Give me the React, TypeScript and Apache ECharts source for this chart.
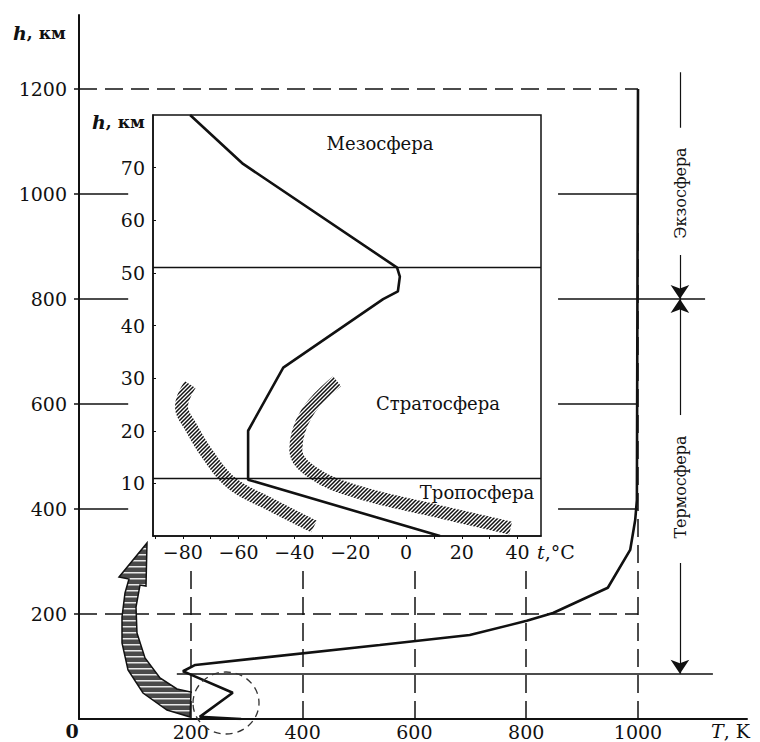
import React, { useEffect, useRef } from "react";
import * as echarts from "echarts";

// Main profile: temperature (K) vs height (km)
const mainHeights = [0, 4, 50, 85, 91, 103, 141, 160, 187, 202, 250, 322, 379, 417, 1200];
const mainTemps = [290, 216, 275, 199, 186, 208, 538, 699, 801, 848, 946, 986, 995, 998, 1000];

// Inset profile: temperature (°C) vs height (km)
const insetHeights = [80, 70.7, 51, 49.3, 46.5, 45, 32, 20, 10.7, 0];
const insetTemps = [-77.4, -58.4, -3.2, -2.2, -2.9, -8.2, -44, -56.6, -56.6, 12.2];

// Hatched bands (cold / warm extremes)
const coldHeights = [28.8, 24.6, 20.6, 15.4, 10, 6.3, 1.8];
const coldTemps = [-77.4, -80.5, -77, -71, -62.4, -49.8, -33];
const warmHeights = [29.4, 23.4, 16.4, 12, 8.4, 4.9, 1.5];
const warmTemps = [-24.7, -35.5, -39.5, -33.3, -17.6, 9.7, 37.5];

const mainTicksK = [200, 400, 600, 800, 1000];
const mainTicksKm = [200, 400, 600, 800, 1000, 1200];
const insetTicksC = [-80, -60, -40, -20, 0, 20, 40];
const insetMinorC = [-90, -80, -70, -60, -50, -40, -30, -20, -10, 0, 10, 20, 30, 40];
const insetTicksKm = [10, 20, 30, 40, 50, 60, 70];

const tropopauseKm = 11;
const stratopauseKm = 51;
const mesopauseKm = 86;
const exoBaseKm = 800;
const topKm = 1200;

const FONT = "DejaVu Serif";

function makeHatch(): HTMLCanvasElement | null {
  try {
    const c = document.createElement("canvas");
    c.width = 6;
    c.height = 6;
    const g = c.getContext("2d");
    if (!g) return null;
    g.fillStyle = "#4a4a4a";
    g.fillRect(0, 0, 6, 6);
    g.fillStyle = "#e8e8e8";
    g.fillRect(0, 2, 6, 1.5);
    return c;
  } catch (e) {
    return null;
  }
}

function makeDiag(): HTMLCanvasElement | null {
  try {
    const s = 4;
    const c = document.createElement("canvas");
    c.width = s;
    c.height = s;
    const g = c.getContext("2d");
    if (!g) return null;
    g.strokeStyle = "#111";
    g.lineWidth = 1.5;
    g.beginPath();
    g.moveTo(-1, s + 1);
    g.lineTo(s + 1, -1);
    g.moveTo(-1, 1);
    g.lineTo(1, -1);
    g.moveTo(s - 1, s + 1);
    g.lineTo(s + 1, s - 1);
    g.stroke();
    return c;
  } catch (e) {
    return null;
  }
}

export default function App() {
  const ref = useRef<HTMLDivElement>(null);
  useEffect(() => {
    if (!ref.current) return;
    const chart = echarts.init(ref.current, null, { renderer: "svg" });

    const toPairs = (xs: number[], ys: number[]) => xs.map((x, i) => [x, ys[i]]);

    const innerTickSegs = [400, 600, 800, 1000].map((h) => ({ coords: [[0, h], [88, h]] }));
    const rightSegs = [400, 600, 1000].map((h) => ({ coords: [[857, h], [1000, h]] }));
    rightSegs.push({ coords: [[857, exoBaseKm], [1120, exoBaseKm]] });
    const mesoLine = { coords: [[175, mesopauseKm], [1134, mesopauseKm]] };

    const dashedH = [topKm, 200].map((h) => ({ coords: [[0, h], [1000, h]] }));
    const dashedV = [200, 400, 600, 800].map((t) => ({ coords: [[t, 0], [t, 290]] }));
    dashedV.push({ coords: [[1000, 0], [1000, topKm]] });

    const xAnn = 1075;
    const plainAnn = [{ coords: [[xAnn, 1232], [xAnn, 1126]] }];
    const arrowAnn = [
      { coords: [[xAnn, 884], [xAnn, exoBaseKm]] },
      { coords: [[xAnn, 579], [xAnn, exoBaseKm]] },
      { coords: [[xAnn, 297], [xAnn, mesopauseKm]] },
    ];

    const insetLines = [tropopauseKm, stratopauseKm].map((h) => ({ coords: [[-90.7, h], [48.4, h]] }));

    const txt = (x: number, y: number, text: string, extra: any = {}, rotation = 0) => ({
      type: "text",
      x,
      y,
      rotation,
      z: 120,
      style: {
        text,
        font: `18px "${FONT}"`,
        fill: "#111",
        textAlign: "center",
        textVerticalAlign: "middle",
        ...extra,
      },
    });

    const hatch = makeHatch();
    const arrowFill = hatch
      ? { image: hatch, repeat: "repeat", imageWidth: 6, imageHeight: 6 }
      : "#7c7c7c";
    const diag = makeDiag();
    const bandStyle = diag
      ? { color: { image: diag, repeat: "repeat", imageWidth: 4, imageHeight: 4 }, width: 13, opacity: 1 }
      : { color: "#222", width: 13, type: [1.5, 2.2] };

    const option: any = {
      animation: false,
      backgroundColor: "#fff",
      grid: [
        { left: 79, top: 15, width: 668, height: 704, containLabel: false },
        {
          left: 153,
          top: 115,
          width: 388,
          height: 421,
          show: true,
          backgroundColor: "#fff",
          borderColor: "#111",
          borderWidth: 1.5,
          z: 5,
        },
      ],
      xAxis: [
        {
          type: "value",
          gridIndex: 0,
          min: 0,
          max: 1195,
          axisLine: { show: true, lineStyle: { color: "#111", width: 2 } },
          axisTick: { show: false },
          splitLine: { show: false },
          axisLabel: {
            customValues: mainTicksK,
            margin: 3,
            color: "#111",
            fontFamily: FONT,
            fontSize: 19,
            formatter: (v: number) => String(v),
          },
        },
        {
          type: "value",
          gridIndex: 1,
          min: -90.7,
          max: 48.4,
          axisLine: { show: true, onZero: false, lineStyle: { color: "#111", width: 1.5 } },
          axisTick: { show: true, customValues: insetMinorC, length: 3, lineStyle: { color: "#111" } },
          splitLine: { show: false },
          axisLabel: {
            customValues: insetTicksC,
            margin: 6,
            color: "#111",
            fontFamily: FONT,
            fontSize: 19,
            formatter: (v: number) => (v < 0 ? "\u2212" + Math.abs(v) : String(v)),
          },
          z: 6,
        },
      ],
      yAxis: [
        {
          type: "value",
          gridIndex: 0,
          min: 0,
          max: 1341,
          axisLine: { show: true, lineStyle: { color: "#111", width: 2 } },
          axisTick: { show: true, customValues: mainTicksKm, length: 5, lineStyle: { color: "#111", width: 1.5 } },
          splitLine: { show: false },
          axisLabel: {
            customValues: mainTicksKm,
            margin: 12,
            color: "#111",
            fontFamily: FONT,
            fontSize: 19,
            formatter: (v: number) => String(v),
          },
        },
        {
          type: "value",
          gridIndex: 1,
          min: 0,
          max: 80,
          axisLine: { show: true, onZero: false, lineStyle: { color: "#111", width: 1.5 } },
          axisTick: { show: true, inside: true, customValues: insetTicksKm, length: 3, lineStyle: { color: "#111" } },
          splitLine: { show: false },
          axisLabel: {
            customValues: insetTicksKm,
            margin: 8,
            color: "#111",
            fontFamily: FONT,
            fontSize: 19,
          },
          z: 6,
        },
      ],
      series: [
        {
          type: "lines",
          coordinateSystem: "cartesian2d",
          xAxisIndex: 0,
          yAxisIndex: 0,
          data: [...innerTickSegs, ...rightSegs, mesoLine],
          lineStyle: { color: "#111", width: 1.5, opacity: 1 },
          silent: true,
        },
        {
          type: "lines",
          coordinateSystem: "cartesian2d",
          xAxisIndex: 0,
          yAxisIndex: 0,
          data: [...dashedH, ...dashedV],
          lineStyle: { color: "#111", width: 1.5, type: [18, 8], opacity: 1 },
          silent: true,
        },
        {
          type: "lines",
          coordinateSystem: "cartesian2d",
          xAxisIndex: 0,
          yAxisIndex: 0,
          data: plainAnn,
          lineStyle: { color: "#111", width: 1.2, opacity: 1 },
          silent: true,
        },
        {
          type: "lines",
          coordinateSystem: "cartesian2d",
          xAxisIndex: 0,
          yAxisIndex: 0,
          data: arrowAnn,
          symbol: ["none", "arrow"],
          symbolSize: [6, 14],
          lineStyle: { color: "#111", width: 1.2, opacity: 1 },
          silent: true,
        },
        {
          name: "T",
          type: "line",
          xAxisIndex: 0,
          yAxisIndex: 0,
          data: toPairs(mainTemps, mainHeights),
          showSymbol: false,
          symbol: "none",
          lineStyle: { color: "#111", width: 2.6 },
          z: 4,
        },
        // inset
        {
          type: "lines",
          coordinateSystem: "cartesian2d",
          xAxisIndex: 1,
          yAxisIndex: 1,
          data: insetLines,
          lineStyle: { color: "#111", width: 1.3, opacity: 1 },
          silent: true,
          z: 7,
        },
        {
          name: "cold",
          type: "line",
          xAxisIndex: 1,
          yAxisIndex: 1,
          data: toPairs(coldTemps, coldHeights),
          smooth: 0.4,
          showSymbol: false,
          symbol: "none",
          lineStyle: bandStyle,
          z: 7,
        },
        {
          name: "warm",
          type: "line",
          xAxisIndex: 1,
          yAxisIndex: 1,
          data: toPairs(warmTemps, warmHeights),
          smooth: 0.4,
          showSymbol: false,
          symbol: "none",
          lineStyle: bandStyle,
          z: 7,
        },
        {
          name: "t",
          type: "line",
          xAxisIndex: 1,
          yAxisIndex: 1,
          data: toPairs(insetTemps, insetHeights),
          showSymbol: false,
          symbol: "none",
          lineStyle: { color: "#111", width: 2.6 },
          z: 8,
        },
      ],
      graphic: [
        {
          type: "text",
          x: 13,
          y: 33,
          z: 120,
          style: {
            text: "{i|h}{n|, км}",
            textVerticalAlign: "middle",
            rich: {
              i: { font: `italic bold 19px "${FONT}"`, fill: "#111" },
              n: { font: `bold 17px "${FONT}"`, fill: "#111" },
            },
          },
        },
        {
          type: "text",
          x: 92,
          y: 122,
          z: 120,
          style: {
            text: "{i|h}{n|, км}",
            textVerticalAlign: "middle",
            rich: {
              i: { font: `italic bold 19px "${FONT}"`, fill: "#111" },
              n: { font: `bold 17px "${FONT}"`, fill: "#111" },
            },
          },
        },
        txt(72, 731, "0", { font: `bold 19px "${FONT}"` }),
        {
          type: "text",
          x: 711,
          y: 731,
          z: 120,
          style: {
            text: "{i|T}{n|, K}",
            textVerticalAlign: "middle",
            rich: {
              i: { font: `italic 19px "${FONT}"`, fill: "#111" },
              n: { font: `19px "${FONT}"`, fill: "#111" },
            },
          },
        },
        {
          type: "text",
          x: 537,
          y: 552,
          z: 120,
          style: {
            text: "{i|t}{n|,°C}",
            textVerticalAlign: "middle",
            rich: {
              i: { font: `italic 19px "${FONT}"`, fill: "#111" },
              n: { font: `19px "${FONT}"`, fill: "#111" },
            },
          },
        },
        txt(380, 143, "Мезосфера"),
        txt(438, 403, "Стратосфера"),
        txt(477, 492, "Тропосфера"),
        txt(680, 193, "Экзосфера", { font: `16px "${FONT}"` }, Math.PI / 2),
        txt(680, 487, "Термосфера", { font: `16px "${FONT}"` }, Math.PI / 2),
        {
          type: "ellipse",
          z: 110,
          shape: { cx: 226, cy: 703, rx: 33, ry: 31 },
          style: { fill: "none", stroke: "#333", lineWidth: 1.3, lineDash: [7, 5] },
        },
        {
          type: "polygon",
          z: 110,
          shape: {
            points: [
              [190, 717], [167, 710], [143, 693], [128, 670], [122, 643], [122, 617],
              [125, 593], [129, 579], [119, 577], [147, 543], [146, 586], [140, 585],
              [136, 607], [137, 633], [145, 658], [160, 678], [177, 689], [191, 692],
            ],
          },
          style: { fill: arrowFill, stroke: "#111", lineWidth: 1.5 },
        },
      ],
    };

    chart.setOption(option);
    return () => chart.dispose();
  }, []);

  return (
    <div
      ref={ref}
      style={{ position: "fixed", left: 0, top: 0, width: 760, height: 742, background: "#fff" }}
    />
  );
}
